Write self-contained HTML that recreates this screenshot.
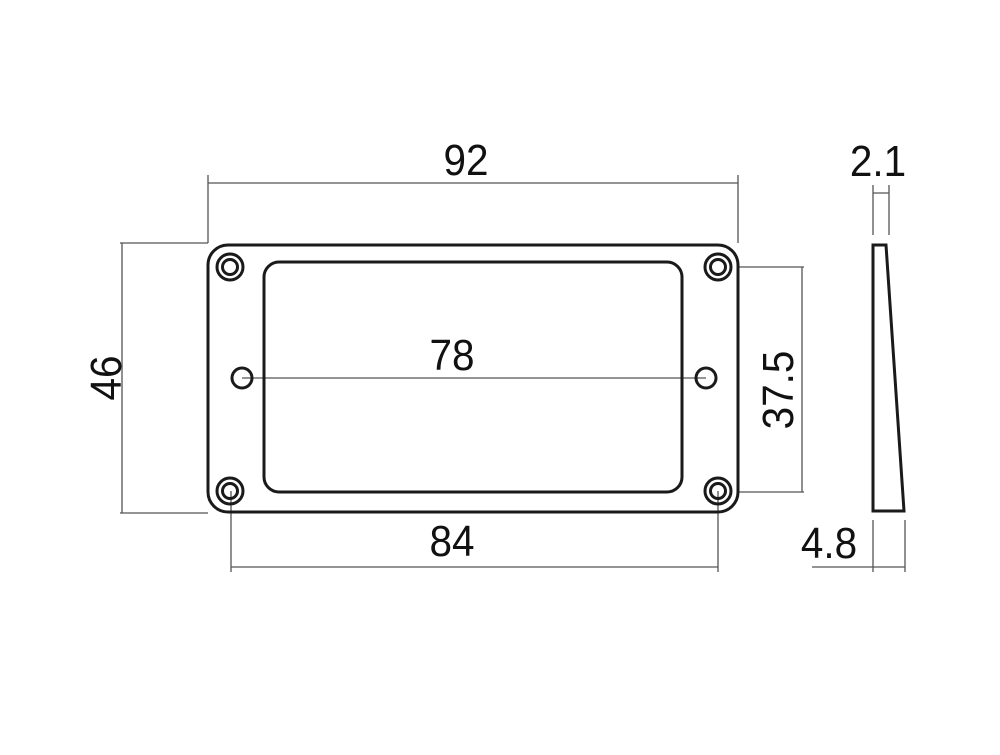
<!DOCTYPE html>
<html><head><style>html,body{margin:0;padding:0;background:#fff}</style></head>
<body>
<svg width="1000" height="750" viewBox="0 0 1000 750" xmlns="http://www.w3.org/2000/svg">
<rect width="1000" height="750" fill="#fff"/>
<g stroke="#555" stroke-width="1.3" fill="none">
<path d="M208 175V243M738 175V243M208 183H738"/>
<path d="M122 243V513M120 243H208M120 513H208"/>
<path d="M738 267H804M738 492H804M802 267V492"/>
<path d="M231 491V572M718 491V572M231 567H718"/>
<path d="M242 378H706"/>
<path d="M873 185V235M889 185V235M873 193H889"/>
<path d="M873 520V572M905 520V572M812 567H905"/>
</g>
<g stroke="#1a1a1a" stroke-width="3" fill="none">
<rect x="208" y="245" width="530" height="267" rx="20"/>
<rect x="264" y="262" width="418" height="230" rx="15"/>
<circle cx="230" cy="267" r="13"/><circle cx="230" cy="267" r="7.5"/>
<circle cx="718" cy="267" r="13"/><circle cx="718" cy="267" r="7.5"/>
<circle cx="230" cy="491" r="13"/><circle cx="230" cy="491" r="7.5"/>
<circle cx="718" cy="491" r="13"/><circle cx="718" cy="491" r="7.5"/>
<circle cx="242" cy="378" r="10"/><circle cx="706" cy="378" r="10"/>
<path d="M873 245H886L904 511H873Z"/>
</g>
<g font-family="Liberation Sans, sans-serif" font-size="44" fill="#111" text-anchor="middle">
<text x="0" y="0" transform="translate(466 175) scale(0.92 1)">92</text>
<text x="0" y="0" transform="translate(452 370) scale(0.92 1)">78</text>
<text x="0" y="0" transform="translate(452 556) scale(0.92 1)">84</text>
<text x="0" y="0" transform="translate(878 176) scale(0.92 1)">2.1</text>
<text x="0" y="0" transform="translate(829 558) scale(0.92 1)">4.8</text>
<text x="0" y="0" transform="translate(121 378) rotate(-90) scale(0.92 1)">46</text>
<text x="0" y="0" transform="translate(793 390) rotate(-90) scale(0.92 1)">37.5</text>
</g>
</svg>
</body></html>
